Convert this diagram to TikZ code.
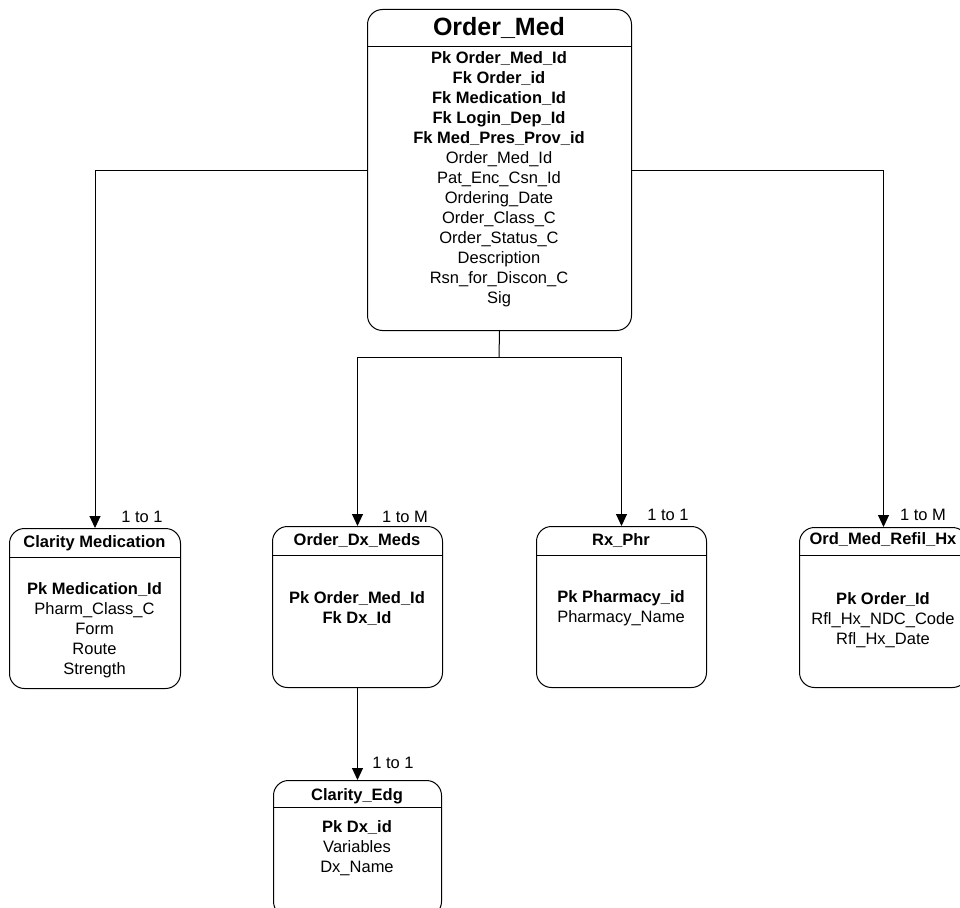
\documentclass[tikz,border=0pt]{standalone}
\usepackage{fontspec}
\setmainfont{Liberation Sans}
\usetikzlibrary{arrows.meta}

\tikzset{
  tbl/.style={draw, line width=1pt, rounded corners=15pt, inner sep=0pt, anchor=north west},
  sep/.style={line width=1pt},
  ttl/.style={font=\bfseries\fontsize{16.5}{20}\selectfont, inner sep=0pt},
  rows/.style={align=center, font=\fontsize{16.5}{20}\selectfont, inner sep=0pt},
  card/.style={font=\fontsize{16.5}{20}\selectfont, inner sep=0pt},
  link/.style={line width=1pt, -{Triangle[length=12pt,width=11pt]}}
}

\begin{document}
\begin{tikzpicture}[x=1pt, y=-1pt]
  \useasboundingbox (0,0) rectangle (960,907);

  % main table
  \node[tbl, minimum width=264pt, minimum height=321pt] (ordermed) at (367,9) {};
  \draw[sep] (ordermed.west |- 0,47) -- (ordermed.east |- 0,47);
  \node[ttl, font=\bfseries\fontsize{25}{30}\selectfont] (ordermedT) at (499,28) {Order\_Med};
  \node[rows] (ordermedR) at (499,179.5) {\textbf{Pk Order\_Med\_Id}\\ \textbf{Fk Order\_id}\\
    \textbf{Fk Medication\_Id}\\ \textbf{Fk Login\_Dep\_Id}\\ \textbf{Fk Med\_Pres\_Prov\_id}\\
    Order\_Med\_Id\\ Pat\_Enc\_Csn\_Id\\ Ordering\_Date\\ Order\_Class\_C\\ Order\_Status\_C\\
    Description\\ Rsn\_for\_Discon\_C\\ Sig};

  % child tables
  \node[tbl, minimum width=171pt, minimum height=160pt] (clarmed) at (9,528) {};
  \draw[sep] (clarmed.west |- 0,557) -- (clarmed.east |- 0,557);
  \node[ttl] (clarmedT) at (94.5,543) {Clarity Medication};
  \node[rows] (clarmedR) at (94.5,630) {\textbf{Pk Medication\_Id}\\ Pharm\_Class\_C\\ Form\\ Route\\ Strength};

  \node[tbl, minimum width=170pt, minimum height=161pt] (dxmeds) at (272,526) {};
  \draw[sep] (dxmeds.west |- 0,555) -- (dxmeds.east |- 0,555);
  \node[ttl] (dxmedsT) at (357,541) {Order\_Dx\_Meds};
  \node[rows] (dxmedsR) at (357,609) {\textbf{Pk Order\_Med\_Id}\\ \textbf{Fk Dx\_Id}};

  \node[tbl, minimum width=170pt, minimum height=161pt] (rxphr) at (536,526) {};
  \draw[sep] (rxphr.west |- 0,555) -- (rxphr.east |- 0,555);
  \node[ttl] (rxphrT) at (621,541) {Rx\_Phr};
  \node[rows] (rxphrR) at (621,608.5) {\textbf{Pk Pharmacy\_id}\\ Pharmacy\_Name};

  \node[tbl, minimum width=168pt, minimum height=160pt] (refil) at (799,527) {};
  \draw[sep] (refil.west |- 0,555) -- (refil.east |- 0,555);
  \node[ttl] (refilT) at (883,540) {Ord\_Med\_Refil\_Hx};
  \node[rows] (refilR) at (883,620) {\textbf{Pk Order\_Id}\\ Rfl\_Hx\_NDC\_Code\\ Rfl\_Hx\_Date};

  \node[tbl, minimum width=168pt, minimum height=136pt] (edg) at (273,780) {};
  \draw[sep] (edg.west |- 0,807) -- (edg.east |- 0,807);
  \node[ttl] (edgT) at (357,796) {Clarity\_Edg};
  \node[rows] (edgR) at (357,848) {\textbf{Pk Dx\_id}\\ Variables\\ Dx\_Name};

  % relations
  \coordinate (split) at (499,357);
  \draw[link] (ordermed.west |- 0,170) -| (clarmed.north);
  \draw[link] (ordermed.east |- 0,170) -| (refil.north);
  \draw[sep] (ordermed.south) -- (split);
  \draw[link] (split) -| (dxmeds.north);
  \draw[link] (split) -| (rxphr.north);
  \draw[link] (dxmeds.south) -- (edg.north);

  \node[card] (c1) at (142,517) {1 to 1};
  \node[card] (c2) at (405,517) {1 to M};
  \node[card] (c3) at (668,515) {1 to 1};
  \node[card] (c4) at (923,515) {1 to M};
  \node[card] (c5) at (393,763) {1 to 1};
\end{tikzpicture}
\end{document}
